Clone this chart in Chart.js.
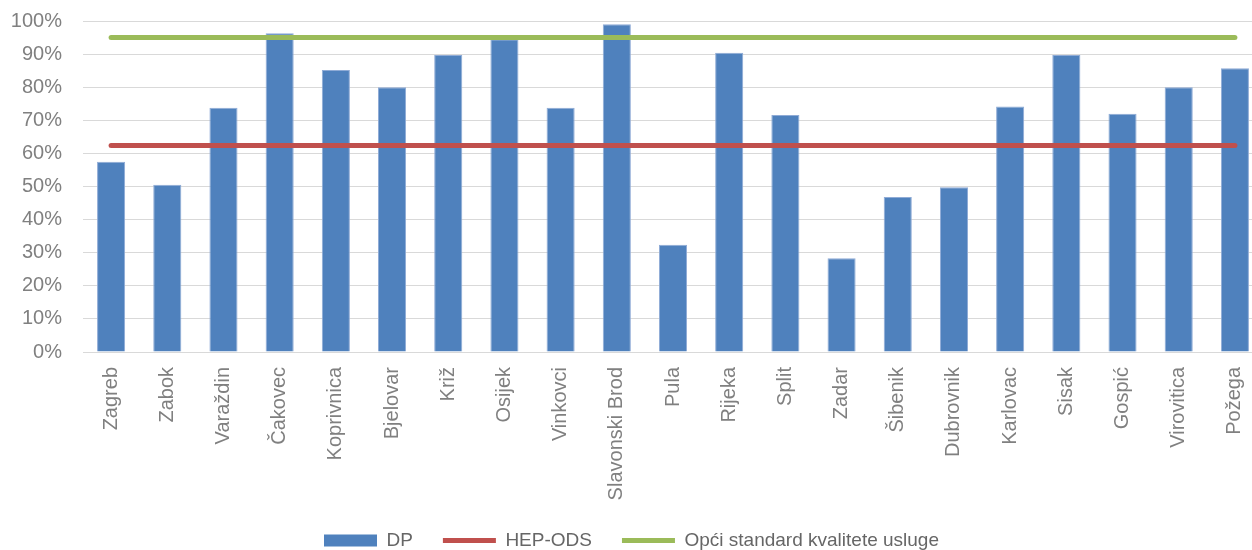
<!DOCTYPE html>
<html>
<head>
<meta charset="utf-8">
<script src="https://cdn.jsdelivr.net/npm/chart.js@4.4.1/dist/chart.umd.min.js"></script>
<style>
  html, body { margin: 0; padding: 0; background: #ffffff; overflow: hidden; }
  #wrap { width: 1252px; height: 550px; overflow: hidden; position: relative; }
  canvas { display: block; }
</style>
</head>
<body>
<div id="wrap"><canvas id="c" width="1263" height="550"></canvas></div>
<script>
const categories = ["Zagreb", "Zabok", "Varaždin", "Čakovec", "Koprivnica", "Bjelovar", "Križ", "Osijek", "Vinkovci", "Slavonski Brod", "Pula", "Rijeka", "Split", "Zadar", "Šibenik", "Dubrovnik", "Karlovac", "Sisak", "Gospić", "Virovitica", "Požega"];
const dpValues = [57.5, 50.5, 73.8, 96.3, 85.2, 80.0, 89.7, 94.5, 73.8, 99.0, 32.4, 90.4, 71.6, 28.3, 46.8, 49.8, 74.2, 89.7, 72.0, 80.0, 85.7];
const hepOdsValues = [62.4, 62.4, 62.4, 62.4, 62.4, 62.4, 62.4, 62.4, 62.4, 62.4, 62.4, 62.4, 62.4, 62.4, 62.4, 62.4, 62.4, 62.4, 62.4, 62.4, 62.4];
const standardValues = [95, 95, 95, 95, 95, 95, 95, 95, 95, 95, 95, 95, 95, 95, 95, 95, 95, 95, 95, 95, 95];
const seriesNames = ["DP", "HEP-ODS", "Opći standard kvalitete usluge"];
const yTicks = [0, 10, 20, 30, 40, 50, 60, 70, 80, 90, 100];

const FONT = "'Liberation Sans', Arial, sans-serif";

const legendFitPlugin = {
  id: 'legendFit',
  beforeInit(chart) {
    const lg = chart.legend;
    if (lg && !lg._patched) {
      const orig = lg.fit;
      lg.fit = function () { orig.call(this); this.height = 49; };
      lg._patched = true;
    }
  }
};

new Chart(document.getElementById('c'), {
  type: 'bar',
  data: {
    labels: categories,
    datasets: [
      {
        type: 'bar',
        label: seriesNames[0],
        data: dpValues,
        backgroundColor: '#4f81bd',
        borderColor: '#8fabd6',
        borderWidth: 1,
        categoryPercentage: 1.0,
        barPercentage: 0.5,
        order: 1
      },
      {
        type: 'line',
        label: seriesNames[1],
        data: hepOdsValues,
        borderColor: '#c0504d',
        backgroundColor: '#c0504d',
        borderWidth: 5,
        borderCapStyle: 'round',
        pointRadius: 0,
        pointStyle: 'line',
        fill: false,
        order: 0
      },
      {
        type: 'line',
        label: seriesNames[2],
        data: standardValues,
        borderColor: '#9bbb59',
        backgroundColor: '#9bbb59',
        borderWidth: 5,
        borderCapStyle: 'round',
        pointRadius: 0,
        pointStyle: 'line',
        fill: false,
        order: 0
      }
    ]
  },
  plugins: [legendFitPlugin],
  options: {
    responsive: false,
    animation: false,
    devicePixelRatio: 1,
    layout: { padding: { top: 21, left: 0, right: 0, bottom: 0 } },
    plugins: {
      tooltip: { enabled: false },
      legend: {
        position: 'bottom',
        labels: {
          usePointStyle: true,
          pointStyleWidth: 53,
          boxHeight: 12,
          padding: 30,
          color: '#666666',
          font: { family: FONT, size: 19 },
          sort: (a, b) => a.datasetIndex - b.datasetIndex,
          generateLabels: (chart) => {
            const items = Chart.defaults.plugins.legend.labels.generateLabels(chart);
            items.forEach(it => {
              if (it.datasetIndex === 0) { it.pointStyle = 'rect'; it.lineWidth = 0; it.strokeStyle = '#4f81bd'; }
              else { it.pointStyle = 'line'; it.lineWidth = 5; it.lineCap = 'butt'; }
            });
            return items;
          }
        }
      }
    },
    scales: {
      x: {
        grid: { display: false, drawTicks: false },
        border: { display: true, color: '#d9d9d9', width: 1 },
        ticks: {
          autoSkip: false,
          maxRotation: 90,
          minRotation: 90,
          padding: 15,
          color: '#808080',
          font: { family: FONT, size: 20 }
        },
        afterFit: (scale) => { scale.height = 149; scale.paddingLeft = 0; scale.paddingRight = 0; }
      },
      y: {
        min: 0,
        max: 100,
        afterBuildTicks: (scale) => { scale.ticks = yTicks.map(v => ({ value: v })); },
        grid: { color: '#d9d9d9', lineWidth: 1, drawTicks: false },
        border: { display: false },
        ticks: {
          padding: 21,
          color: '#808080',
          font: { family: FONT, size: 20 },
          callback: (v) => v + '%'
        },
        afterFit: (scale) => { scale.width = 83; scale.paddingTop = 0; scale.paddingBottom = 0; }
      }
    }
  }
});
</script>
</body>
</html>
